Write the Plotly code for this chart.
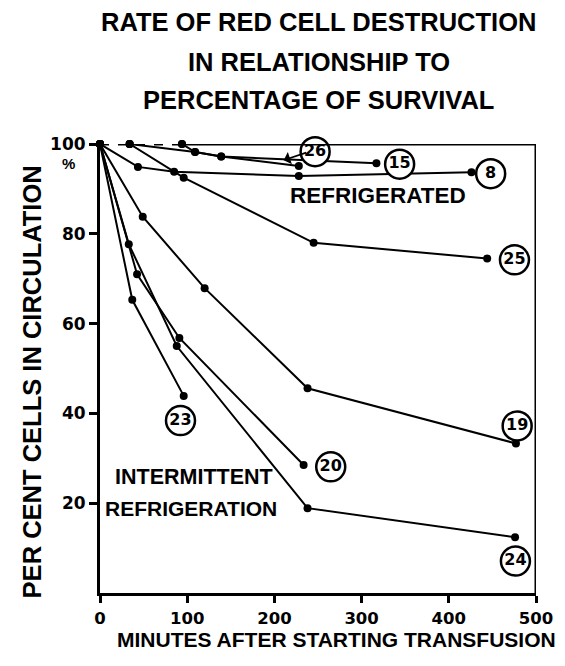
import plotly.graph_objects as go

# ---- data (minutes after start, per cent cells in circulation) ----
t_start = [0, 34, 94]
p_start = [100, 100, 100]

t_26 = [34, 109, 139, 228]
p_26 = [100, 98.2, 97.2, 95.1]
t_15 = [94, 109, 139, 317]
p_15 = [100, 98.2, 97.2, 95.7]
t_8 = [0, 43.5, 85, 228, 426]
p_8 = [100, 94.9, 93.8, 92.9, 93.7]
t_25 = [34, 96, 245, 444]
p_25 = [100, 92.5, 78.0, 74.5]
t_19 = [0, 49, 120, 238, 477]
p_19 = [100, 83.8, 67.9, 45.6, 33.3]
t_23 = [0, 37, 96]
p_23 = [100, 65.3, 43.9]
t_20 = [0, 42.5, 91, 233.5]
p_20 = [100, 71.0, 56.8, 28.5]
t_24 = [0, 33, 88, 238, 476]
p_24 = [100, 77.7, 55.0, 18.9, 12.4]

label_text = ["26", "15", "8", "25", "19", "23", "20", "24"]
label_t = [246.7, 343.6, 448, 475.3, 478.4, 92.3, 264.6, 476.4]
label_p = [98.3, 95.5, 93.4, 74.2, 37.2, 38.4, 28.1, 7.1]

x_ticks = [0, 100, 200, 300, 400, 500]
y_ticks = [20, 40, 60, 80, 100]

FONT = "Liberation Sans"
NUMF = "DejaVu Sans"

fig = go.Figure()

series = [(t_26, p_26), (t_15, p_15), (t_8, p_8), (t_25, p_25),
          (t_19, p_19), (t_23, p_23), (t_20, p_20), (t_24, p_24)]
for t, p in series:
    fig.add_trace(go.Scatter(
        x=t, y=p, mode="lines+markers",
        line=dict(color="black", width=2),
        marker=dict(color="black", size=8),
        cliponaxis=False, showlegend=False, hoverinfo="skip"))

fig.add_trace(go.Scatter(
    x=t_start, y=p_start, mode="lines+markers",
    line=dict(color="black", width=3, dash="dash"),
    marker=dict(color="black", size=8),
    cliponaxis=False, showlegend=False, hoverinfo="skip"))

fig.add_trace(go.Scatter(
    x=label_t, y=label_p, mode="markers+text", text=label_text,
    textposition="middle center",
    textfont=dict(family=NUMF, size=16, color="black", weight="bold"),
    marker=dict(symbol="circle", size=29, color="white",
                line=dict(color="black", width=2.5)),
    cliponaxis=False, showlegend=False, hoverinfo="skip"))

# frame: right and top (top solid only after the dashed start)
fig.add_shape(type="line", xref="x", yref="y", x0=500, x1=500, y0=0, y1=100,
              line=dict(color="black", width=3))
fig.add_shape(type="line", xref="x", yref="y", x0=t_start[-1], x1=500, y0=100, y1=100,
              line=dict(color="black", width=3))

# arrow for 26
fig.add_annotation(x=210.7, y=96.4, xref="x", yref="y", text="", showarrow=True,
                   ax=24, ay=-8, arrowhead=1, arrowsize=1.2, arrowwidth=1.8,
                   arrowcolor="black")

texts = [
    ("REFRIGERATED", 319, 88.6, 22.5),
    ("INTERMITTENT", 108.2, 25.8, 21.5),
    ("REFRIGERATION", 104.4, 18.9, 21),
]
for txt, x, y, s in texts:
    fig.add_annotation(x=x, y=y, xref="x", yref="y", text=txt, showarrow=False,
                       font=dict(family=FONT, size=s, color="black", weight="bold"))

title_lines = [("RATE OF RED CELL DESTRUCTION", 1.2717),
               ("IN RELATIONSHIP TO", 1.183),
               ("PERCENTAGE OF SURVIVAL", 1.098)]
for txt, y in title_lines:
    fig.add_annotation(x=0.502, y=y, xref="paper", yref="paper", text=txt,
                       showarrow=False, xanchor="center", yanchor="middle",
                       font=dict(family=FONT, size=25.5, color="black", weight="bold"))

fig.add_annotation(x=-0.155, y=0.47, xref="paper", yref="paper",
                   text="PER CENT CELLS IN CIRCULATION", textangle=-90,
                   showarrow=False, xanchor="center", yanchor="middle",
                   font=dict(family=FONT, size=25.5, color="black", weight="bold"))
fig.add_annotation(x=0.542, y=-0.104, xref="paper", yref="paper",
                   text="MINUTES AFTER STARTING TRANSFUSION", showarrow=False,
                   xanchor="center", yanchor="middle",
                   font=dict(family=FONT, size=21, color="black", weight="bold"))
fig.add_annotation(x=-0.072, y=0.956, xref="paper", yref="paper", text="%",
                   showarrow=False, xanchor="center", yanchor="middle",
                   font=dict(family=FONT, size=15, color="black", weight="bold"))

# the page body adds an 8px offset; size and margins compensate for it
fig.update_layout(
    width=557, height=658,
    margin=dict(l=92, r=26, t=136, b=73),
    paper_bgcolor="white", plot_bgcolor="white",
    xaxis=dict(range=[0, 500], tickvals=x_ticks, ticktext=[str(v) for v in x_ticks],
               showgrid=False, zeroline=False, showline=True, linecolor="black",
               linewidth=3, ticks="outside", ticklen=7, tickwidth=2.5,
               tickcolor="black", ticklabelstandoff=1,
               tickfont=dict(family=NUMF, size=16.5, color="black", weight="bold")),
    yaxis=dict(range=[0, 100], tickvals=y_ticks, ticktext=[str(v) for v in y_ticks],
               showgrid=False, zeroline=False, showline=True, linecolor="black",
               linewidth=3, ticks="outside", ticklen=8, tickwidth=2.5,
               tickcolor="black",
               tickfont=dict(family=NUMF, size=17, color="black", weight="bold")),
)

fig.write_html("out.html")
